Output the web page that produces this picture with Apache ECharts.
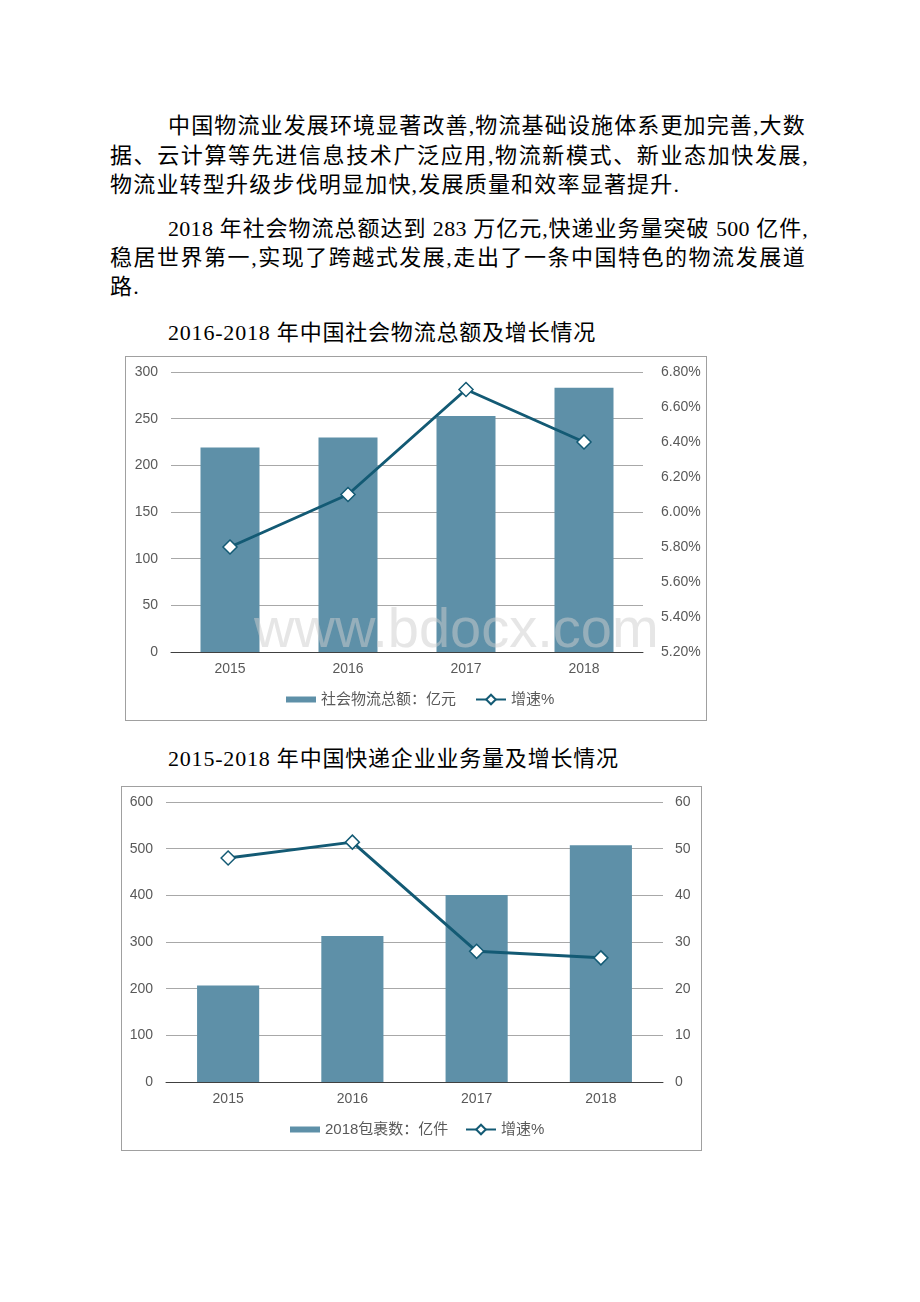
<!DOCTYPE html>
<html>
<head>
<meta charset="utf-8">
<script src="https://cdn.jsdelivr.net/npm/echarts@6/dist/echarts.min.js"></script>
<style>
  html, body { margin: 0; padding: 0; background: #fff; }
  body { width: 920px; height: 1302px; position: relative; overflow: hidden; }
  .ln { position: absolute; font-family: "Liberation Serif", "Noto Sans CJK SC", serif; font-size: 22px; line-height: 30px; height: 30px; color: #000; white-space: nowrap; letter-spacing: 1.2px; }
  .just { text-align: justify; text-align-last: justify; white-space: normal; letter-spacing: 0.3px; }
  .ttl { position: absolute; font-family: "Liberation Serif", "Noto Sans CJK SC", serif; font-size: 22px; line-height: 30px; color: #000; white-space: nowrap; letter-spacing: 0.8px; }
  .box { position: absolute; border: 1px solid #a0a0a0; box-sizing: border-box; }
  #chart { position: absolute; left: 0; top: 0; width: 920px; height: 1302px; }
</style>
</head>
<body>
<div class="ln just" style="left:168px; top:111px; width:637px;">中国物流业发展环境显著改善,物流基础设施体系更加完善,大数</div>
<div class="ln just" style="left:110px; top:141px; width:698px;">据、云计算等先进信息技术广泛应用,物流新模式、新业态加快发展,</div>
<div class="ln" style="left:110px; top:170px;">物流业转型升级步伐明显加快,发展质量和效率显著提升.</div>
<div class="ln just" style="left:168px; top:214px; width:640px;">2018 年社会物流总额达到 283 万亿元,快递业务量突破 500 亿件,</div>
<div class="ln just" style="left:110px; top:243px; width:695px;">稳居世界第一,实现了跨越式发展,走出了一条中国特色的物流发展道</div>
<div class="ln" style="left:110px; top:272px;">路.</div>
<div class="ttl" style="left:168px; top:318px;">2016-2018 年中国社会物流总额及增长情况</div>
<div class="ttl" style="left:168px; top:744px;">2015-2018 年中国快递企业业务量及增长情况</div>
<div class="box" style="left:125px; top:356px; width:582px; height:365px;"></div>
<div class="box" style="left:121px; top:786px; width:581px; height:365px;"></div>
<div id="chart"></div>
<script>
// ---- data ----
const categories = ['2015', '2016', '2017', '2018'];
const freightName = '社会物流总额：亿元';
const freightTotal = [219.2, 229.7, 252.8, 283.1];
const freightGrowthName = '增速%';
const freightGrowth = [5.8, 6.1, 6.7, 6.4];
const parcelName = '2018包裹数：亿件';
const parcelVolume = [206.7, 312.8, 400.6, 507.1];
const parcelGrowthName = '增速%';
const parcelGrowth = [48.0, 51.4, 28.0, 26.6];
const freightAxis = { min: 0, max: 300, interval: 50 };
const freightRateAxis = { min: 5.2, max: 6.8, interval: 0.2 };
const parcelAxis = { min: 0, max: 600, interval: 100 };
const parcelRateAxis = { min: 0, max: 60, interval: 10 };

// ---- style ----
const BAR = '#5e90a8';
const LINE = '#135a74';
const GRID = '#a8a8a8';
const LABEL = '#595959';
const FONT = '"Liberation Sans", Arial, "Noto Sans CJK SC", sans-serif';

const chart = echarts.init(document.getElementById('chart'), null, { renderer: 'canvas' });

function leftAxis(gridIndex, cfg) {
  return {
    type: 'value', gridIndex, min: cfg.min, max: cfg.max, interval: cfg.interval,
    axisLine: { show: false }, axisTick: { show: false },
    axisLabel: { color: LABEL, fontSize: 14, fontFamily: FONT, margin: 13 },
    splitLine: { lineStyle: { color: GRID, width: 1 } }
  };
}
function rightAxis(gridIndex, cfg, fmt, margin) {
  return {
    type: 'value', gridIndex, position: 'right', min: cfg.min, max: cfg.max, interval: cfg.interval,
    axisLine: { show: false }, axisTick: { show: false },
    axisLabel: { color: LABEL, fontSize: 14, fontFamily: FONT, margin, formatter: fmt, align: 'left' },
    splitLine: { show: false }
  };
}
function catAxis(gridIndex) {
  return {
    type: 'category', gridIndex, data: categories,
    axisLine: { lineStyle: { color: '#404040', width: 1 } },
    axisTick: { show: false },
    axisLabel: { color: LABEL, fontSize: 14, fontFamily: FONT, margin: 10 }
  };
}
function legendBar(name, left, top) {
  return {
    data: [{ name, icon: 'rect' }], left, top, padding: 0,
    itemWidth: 30, itemHeight: 6,
    textStyle: { color: LABEL, fontSize: 15, fontFamily: FONT }
  };
}
function legendLine(name, left, top) {
  return {
    data: [name], left, top, padding: 0,
    itemWidth: 30, itemHeight: 12,
    textStyle: { color: LABEL, fontSize: 15, fontFamily: FONT }
  };
}

const lineSeries = (name, xi, yi, data) => ({
  name, type: 'line', xAxisIndex: xi, yAxisIndex: yi, data,
  symbol: 'diamond', symbolSize: 14,
  lineStyle: { color: LINE, width: 3 },
  itemStyle: { color: '#fff', borderColor: LINE, borderWidth: 1.5 },
  z: 5, animation: false
});

// the two "增速%" series are kept distinct for their own legends
const g1 = freightGrowthName + ' ';
const g2 = parcelGrowthName + '  ';

chart.setOption({
  animation: false,
  grid: [
    { left: 171, top: 372, width: 472, height: 280 },
    { left: 166, top: 802, width: 497, height: 280 }
  ],
  xAxis: [catAxis(0), catAxis(1)],
  yAxis: [
    leftAxis(0, freightAxis),
    rightAxis(0, freightRateAxis, v => v.toFixed(2) + '%', 18),
    leftAxis(1, parcelAxis),
    rightAxis(1, parcelRateAxis, v => String(Math.round(v)), 12)
  ],
  legend: [
    legendBar(freightName, 286, 692),
    legendLine(g1, 475, 692),
    legendBar(parcelName, 290, 1122),
    legendLine(g2, 465, 1122)
  ],
  series: [
    { name: freightName, type: 'bar', xAxisIndex: 0, yAxisIndex: 0, data: freightTotal, barWidth: '50%', itemStyle: { color: BAR } },
    lineSeries(g1, 0, 1, freightGrowth),
    { name: parcelName, type: 'bar', xAxisIndex: 1, yAxisIndex: 2, data: parcelVolume, barWidth: '50%', itemStyle: { color: BAR } },
    lineSeries(g2, 1, 3, parcelGrowth)
  ],
  graphic: [
    {
      type: 'text', left: 254, top: 604, z: 100, silent: true,
      style: { text: 'www.bdocx.com', font: '56px "Liberation Sans", Arial, sans-serif', fill: 'rgba(205,205,205,0.5)' }
    }
  ]
});
</script>
</body>
</html>
